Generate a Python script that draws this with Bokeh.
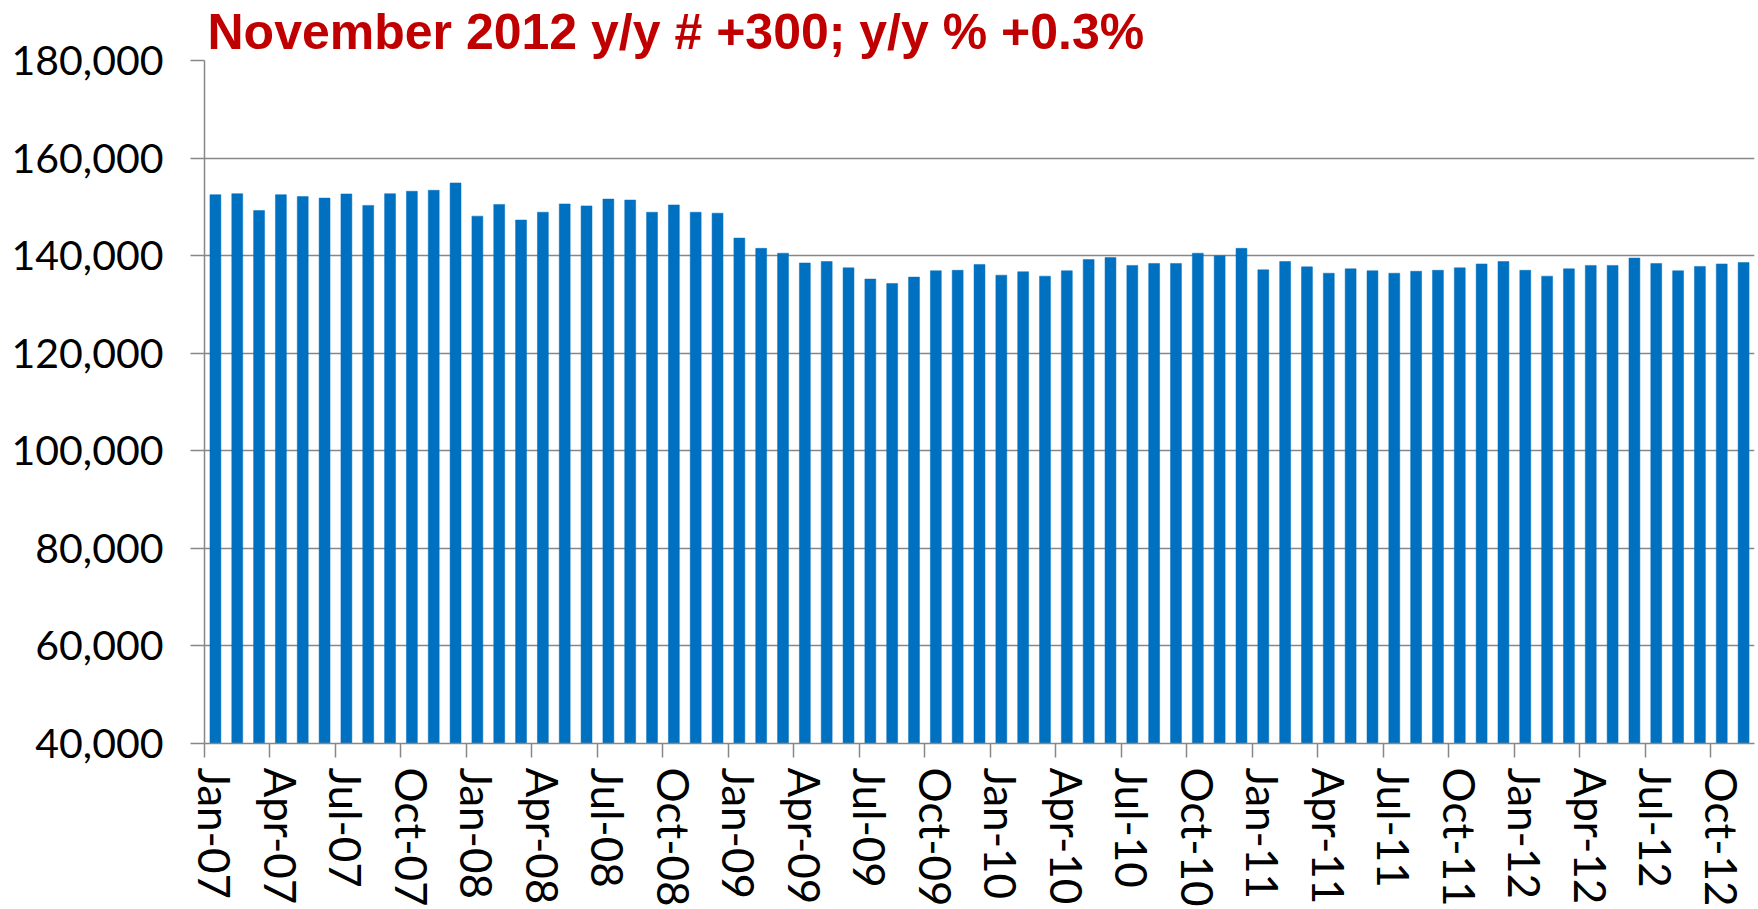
from bokeh.plotting import figure
from bokeh.models import Range1d, FixedTicker, LinearAxis, NumeralTickFormatter, ColumnDataSource
from bokeh.embed import file_html
from bokeh.resources import INLINE

# ---- data (monthly, Jan-07 .. Nov-12) ----
values_2007 = [152500, 152700, 149250, 152500, 152100, 151800, 152650, 150300, 152700, 153200, 153400, 154900]
values_2008 = [148100, 150500, 147300, 148900, 150600, 150200, 151600, 151400, 148900, 150400, 148900, 148700]
values_2009 = [143600, 141500, 140500, 138500, 138800, 137500, 135200, 134300, 135600, 136900, 137000, 138200]
values_2010 = [136000, 136700, 135800, 136900, 139200, 139600, 138000, 138400, 138400, 140500, 140000, 141500]
values_2011 = [137100, 138800, 137700, 136400, 137300, 136900, 136400, 136800, 137000, 137500, 138300, 138800]
values_2012 = [137000, 135800, 137300, 138000, 138000, 139500, 138400, 136900, 137800, 138300, 138600]

tick_labels = ["Jan-07", "Apr-07", "Jul-07", "Oct-07",
               "Jan-08", "Apr-08", "Jul-08", "Oct-08",
               "Jan-09", "Apr-09", "Jul-09", "Oct-09",
               "Jan-10", "Apr-10", "Jul-10", "Oct-10",
               "Jan-11", "Apr-11", "Jul-11", "Oct-11",
               "Jan-12", "Apr-12", "Jul-12", "Oct-12"]

y_ticks = [40000, 60000, 80000, 100000, 120000, 140000, 160000, 180000]
title_text = "November 2012 y/y # +300; y/y % +0.3%"

values = values_2007 + values_2008 + values_2009 + values_2010 + values_2011 + values_2012
idx = list(range(len(values)))
source = ColumnDataSource(dict(x=idx, top=values))

AXIS_FONT = "Lato"
GRAY = "#878787"

p = figure(width=1758, height=909, output_backend="svg", toolbar_location=None,
           x_range=Range1d(-0.5, len(values) - 0.5), y_range=Range1d(40000, 180000),
           min_border_left=204, min_border_right=4, min_border_top=60, min_border_bottom=166)

p.vbar(x="x", top="top", bottom=40000, width=0.5, source=source,
       fill_color="#0070C0", line_color="#0070C0", line_width=0.5)

p.outline_line_color = None
p.background_fill_color = "white"
p.border_fill_color = "white"

# title
p.title.text = title_text
p.title.text_font = "Liberation Sans"
p.title.text_font_style = "bold"
p.title.text_font_size = "50px"
p.title.text_color = "#C00000"
p.title.align = "left"
p.title.standoff = 2
p.title.offset = 3

# y axis
ya = p.yaxis[0]
ya.ticker = FixedTicker(ticks=y_ticks)
ya.formatter = NumeralTickFormatter(format="0,0")
ya.axis_line_color = GRAY
ya.axis_line_width = 1.5
ya.major_tick_line_color = GRAY
ya.major_tick_line_width = 1.5
ya.major_tick_out = 14
ya.major_tick_in = 0
ya.minor_tick_line_color = None
ya.major_label_standoff = 27
ya.major_label_text_font = AXIS_FONT
ya.major_label_text_font_size = "41px"
ya.major_label_text_color = "black"

p.ygrid.ticker = FixedTicker(ticks=y_ticks)
p.ygrid.grid_line_color = GRAY
p.ygrid.grid_line_width = 1.5
p.xgrid.visible = False

# x axis: tick marks at quarter boundaries (no labels)
xa = p.xaxis[0]
xa.ticker = FixedTicker(ticks=[-0.5 + 3 * k for k in range(len(tick_labels))])
xa.axis_line_color = GRAY
xa.axis_line_width = 1.5
xa.major_tick_line_color = GRAY
xa.major_tick_line_width = 1.5
xa.major_tick_out = 14
xa.major_tick_in = 0
xa.minor_tick_line_color = None
xa.major_label_text_font_size = "1px"
xa.major_label_text_color = None
xa.major_label_standoff = 0

# x axis: labels centred on the quarter's first month
label_ticks = [3 * k for k in range(len(tick_labels))]
xl = LinearAxis(ticker=FixedTicker(ticks=label_ticks))
xl.major_label_overrides = {t: lab for t, lab in zip(label_ticks, tick_labels)}
xl.axis_line_color = None
xl.major_tick_line_color = None
xl.minor_tick_line_color = None
xl.major_label_orientation = "vertical"
xl.major_label_standoff = 4
xl.major_label_text_font = AXIS_FONT
xl.major_label_text_font_size = "44px"
xl.major_label_text_color = "black"
p.add_layout(xl, "below")

open("out.html", "w").write(file_html(p, INLINE))
